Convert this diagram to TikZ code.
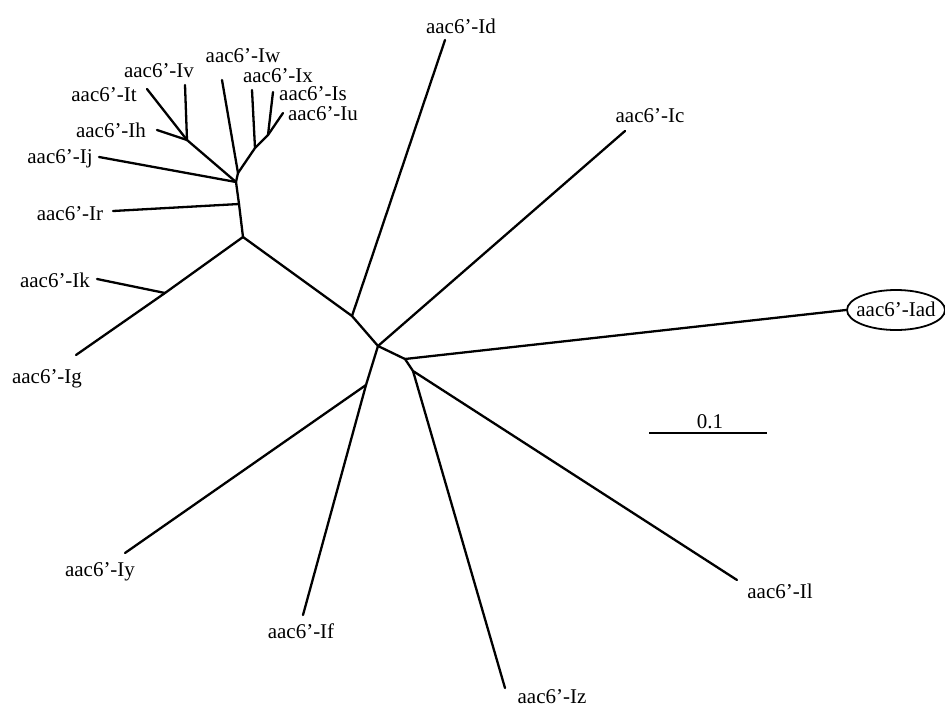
\documentclass[tikz,border=0pt]{standalone}
\usepackage{fontspec}
\setmainfont{Liberation Serif}
\begin{document}
\begin{tikzpicture}[x=1pt,y=-1pt,
  lab/.style={anchor=base,inner sep=0pt,font=\fontsize{21}{25}\selectfont},
  br/.style={line width=2.3pt,line cap=round,line join=round}]
\useasboundingbox (0,0) rectangle (945,707);
% internal nodes
\coordinate (A) at (187,140);
\coordinate (C) at (268,135);
\coordinate (D) at (255,148);
\coordinate (E) at (238,173);
\coordinate (B) at (236,182);
\coordinate (F) at (239,204);
\coordinate (G) at (243,237);
\coordinate (H) at (165,293);
\coordinate (I) at (352,316);
\coordinate (J) at (378,346);
\coordinate (K) at (405,359);
\coordinate (L) at (413,371);
\coordinate (M) at (366,385);
% tips
\coordinate (tIv) at (185,85);
\coordinate (tIt) at (147,89);
\coordinate (tIh) at (157,130);
\coordinate (tIw) at (222,80);
\coordinate (tIx) at (252,90);
\coordinate (tIs) at (273,92);
\coordinate (tIu) at (283,113);
\coordinate (tIj) at (99,157);
\coordinate (tIr) at (113,211);
\coordinate (tIk) at (97,279);
\coordinate (tIg) at (76,355);
\coordinate (tId) at (445,40);
\coordinate (tIc) at (625,131);
\coordinate (tIad) at (846,310);
\coordinate (tIy) at (125,553);
\coordinate (tIf) at (303,615);
\coordinate (tIz) at (505,688);
\coordinate (tIl) at (737,580);
% labels
\node[lab] (Iw) at (243,62) {aac6'-Iw};
\node[lab] (Iv) at (159,77) {aac6'-Iv};
\node[lab] (Ix) at (278,82) {aac6'-Ix};
\node[lab] (It) at (104,101) {aac6'-It};
\node[lab] (Is) at (313,100) {aac6'-Is};
\node[lab] (Iu) at (323,120) {aac6'-Iu};
\node[lab] (Ih) at (111,137) {aac6'-Ih};
\node[lab] (Ij) at (60,163) {aac6'-Ij};
\node[lab] (Ir) at (70,220) {aac6'-Ir};
\node[lab] (Ik) at (55,287) {aac6'-Ik};
\node[lab] (Ig) at (47,383) {aac6'-Ig};
\node[lab] (Id) at (461,33) {aac6'-Id};
\node[lab] (Ic) at (650,122) {aac6'-Ic};
\node[lab] (Iad) at (896,316) {aac6'-Iad};
\node[lab] (Iy) at (100,576) {aac6'-Iy};
\node[lab] (If) at (301,638) {aac6'-If};
\node[lab] (Iz) at (552,703) {aac6'-Iz};
\node[lab] (Il) at (780,598) {aac6'-Il};
\draw[line width=1.8pt] (896,310) ellipse [x radius=49, y radius=20];
% branches
\draw[br] (tIv) -- (A);
\draw[br] (tIt) -- (A);
\draw[br] (tIh) -- (A);
\draw[br] (A) -- (B);
\draw[br] (tIs) -- (C);
\draw[br] (tIu) -- (C);
\draw[br] (C) -- (D);
\draw[br] (tIx) -- (D);
\draw[br] (D) -- (E);
\draw[br] (tIw) -- (E);
\draw[br] (E) -- (B);
\draw[br] (tIj) -- (B);
\draw[br] (B) -- (F);
\draw[br] (tIr) -- (F);
\draw[br] (F) -- (G);
\draw[br] (G) -- (H);
\draw[br] (tIk) -- (H);
\draw[br] (H) -- (tIg);
\draw[br] (G) -- (I);
\draw[br] (I) -- (tId);
\draw[br] (I) -- (J);
\draw[br] (J) -- (tIc);
\draw[br] (J) -- (K);
\draw[br] (K) -- (tIad);
\draw[br] (K) -- (L);
\draw[br] (L) -- (tIz);
\draw[br] (L) -- (tIl);
\draw[br] (J) -- (M);
\draw[br] (M) -- (tIy);
\draw[br] (M) -- (tIf);
% scale bar
\coordinate (s1) at (649,433);
\coordinate (s2) at (767,433);
\draw[br,line cap=butt] (s1) -- (s2);
\node[lab] (sl) at (710,428) {0.1};
\end{tikzpicture}
\end{document}
